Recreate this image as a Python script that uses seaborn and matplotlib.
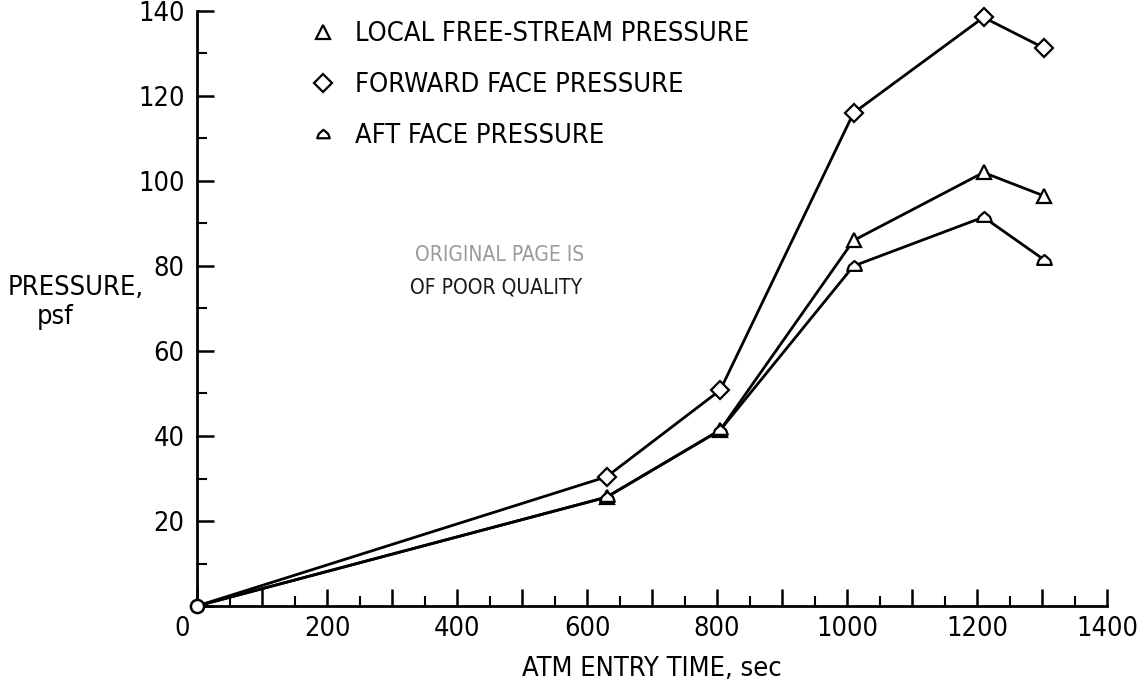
import matplotlib
matplotlib.use("Agg")
import matplotlib.pyplot as plt
from matplotlib.ticker import MultipleLocator, FuncFormatter
from matplotlib.lines import Line2D
from matplotlib.path import Path
from matplotlib.transforms import ScaledTranslation
from matplotlib import font_manager
import pandas as pd
import seaborn as sns

# Entry time of each data station (sec)
entry_time = [0, 630, 805, 1010, 1210, 1303]

# Pressures at each station (psf)
local_free_stream = [0, 25.6, 41.4, 86.0, 102.0, 96.5]
forward_face = [0, 30.4, 50.8, 116.0, 138.5, 131.3]
aft_face = [0, 25.6, 41.4, 80.0, 91.5, 81.5]

series_labels = ["LOCAL FREE-STREAM PRESSURE",
                 "FORWARD FACE PRESSURE",
                 "AFT FACE PRESSURE"]
x_tick_labels = [0, 200, 400, 600, 800, 1000, 1200, 1400]
y_tick_labels = [20, 40, 60, 80, 100, 120, 140]

sns.set_style("ticks")
available = {f.name for f in font_manager.fontManager.ttflist}
if "Liberation Sans Narrow" in available:
    plt.rcParams["font.family"] = ["Liberation Sans Narrow", "DejaVu Sans"]
else:
    plt.rcParams["font.family"] = ["DejaVu Sans"]
    plt.rcParams["font.stretch"] = "condensed"
for key in ("text.color", "axes.labelcolor", "xtick.color", "ytick.color",
            "axes.edgecolor"):
    plt.rcParams[key] = "black"

FS = 19.5
X_PAD = 7
W, H = 1143, 685
fig = plt.figure(figsize=(W / 100, H / 100), dpi=100)
ax = fig.add_axes([197 / W, (H - 606) / H, 910 / W, 595 / H])


def fx(px):
    return px / W


def fy(py):
    return 1 - py / H


# rounded-roof marker used for the aft face points
aft_marker = Path([(-1.0, -0.6), (1.0, -0.6), (0.75, 0.1), (0.0, 0.75),
                   (-0.75, 0.1), (-1.0, -0.6)],
                  [Path.MOVETO, Path.LINETO, Path.LINETO, Path.LINETO,
                   Path.LINETO, Path.CLOSEPOLY])

df = pd.DataFrame({
    "time": entry_time,
    "local": local_free_stream,
    "forward": forward_face,
    "aft": aft_face,
})

styles = [
    ("local", "^", 10.5),
    ("forward", "D", 8.8),
    ("aft", aft_marker, 10.5),
]
skip_origin = list(range(1, len(entry_time)))
for col, mk, ms in styles:
    sns.lineplot(data=df, x="time", y=col, ax=ax, color="black",
                 linewidth=2.0, marker=mk, markersize=ms,
                 markerfacecolor="white", markeredgecolor="black",
                 markeredgewidth=1.6, markevery=skip_origin,
                 legend=False, sort=False, zorder=3)

# common starting point
sns.scatterplot(x=[entry_time[0]], y=[forward_face[0]], ax=ax, marker="o",
                s=90, facecolor="white", edgecolor="black", linewidth=1.8,
                zorder=5, legend=False)

for artist in list(ax.lines) + list(ax.collections):
    artist.set_clip_on(False)

ax.set_xlim(0, 1400)
ax.set_ylim(0, 140)
sns.despine(ax=ax)
for side in ("left", "bottom"):
    ax.spines[side].set_linewidth(2.0)

# the origin label is drawn separately, nudged left of the corner
x_origin = x_tick_labels[0]
ax.xaxis.set_major_locator(MultipleLocator(100))
ax.xaxis.set_minor_locator(MultipleLocator(50))
ax.xaxis.set_major_formatter(FuncFormatter(
    lambda v, p: f"{int(round(v))}"
    if int(round(v)) in x_tick_labels[1:] else ""))
ax.yaxis.set_major_locator(MultipleLocator(20))
ax.yaxis.set_minor_locator(MultipleLocator(10))
ax.yaxis.set_major_formatter(FuncFormatter(
    lambda v, p: f"{int(round(v))}" if int(round(v)) in y_tick_labels else ""))

ax.tick_params(which="major", direction="in", length=12, width=1.8,
               labelsize=FS, colors="black")
ax.tick_params(axis="x", which="major", pad=X_PAD)
ax.tick_params(axis="y", which="major", pad=9)
ax.tick_params(which="minor", direction="in", length=7, width=1.5)

origin_trans = ax.get_xaxis_transform() + ScaledTranslation(
    -15 / 100, -X_PAD / 72, fig.dpi_scale_trans)
ax.text(x_origin, 0, f"{x_origin}", transform=origin_trans, fontsize=FS,
        ha="center", va="top", clip_on=False)

ax.set_xlabel("ATM ENTRY TIME, sec", fontsize=FS, labelpad=10)
ax.set_ylabel("")
fig.text(fx(76), fy(288), "PRESSURE,", fontsize=FS, ha="center", va="center")
fig.text(fx(55), fy(317), "psf", fontsize=FS, ha="center", va="center")

handles = [
    Line2D([], [], linestyle="none", marker="^", markersize=10,
           markerfacecolor="white", markeredgecolor="black", markeredgewidth=1.6),
    Line2D([], [], linestyle="none", marker="D", markersize=9.5,
           markerfacecolor="white", markeredgecolor="black", markeredgewidth=1.6),
    Line2D([], [], linestyle="none", marker=aft_marker, markersize=9,
           markerfacecolor="white", markeredgecolor="black", markeredgewidth=1.6),
]
ax.legend(handles, series_labels, loc="upper left",
          bbox_to_anchor=(fx(309), fy(21)), bbox_transform=fig.transFigure,
          frameon=False, fontsize=FS, handlelength=1.0, handletextpad=0.7,
          labelspacing=0.93, borderpad=0, borderaxespad=0)

fig.text(fx(415), fy(255), "ORIGINAL PAGE IS", fontsize=15, color="#9a9a9a",
         ha="left", va="center", family=["DejaVu Sans"])
fig.text(fx(410), fy(287), "OF POOR QUALITY", fontsize=15, color="#1a1a1a",
         ha="left", va="center", family=["DejaVu Sans"])

fig.savefig("out.png", dpi=100, facecolor="white")
